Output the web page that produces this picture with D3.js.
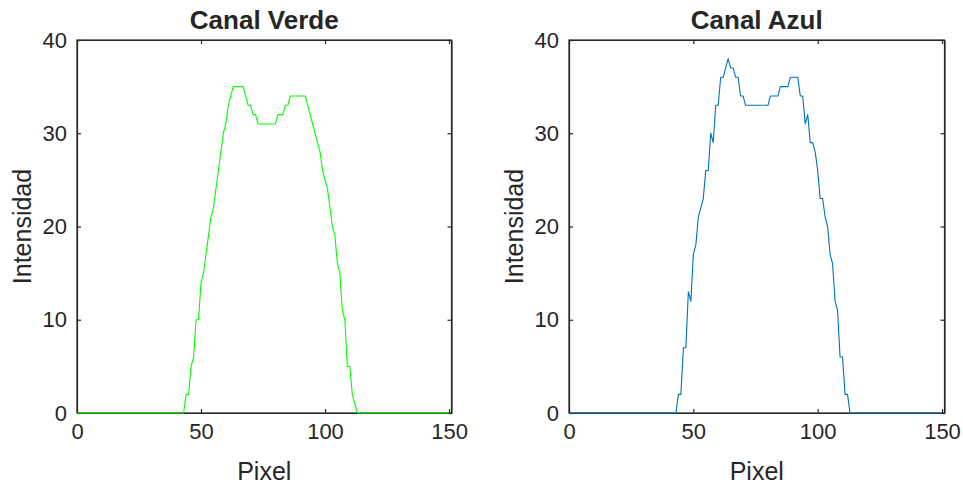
<!DOCTYPE html>
<html>
<head>
<meta charset="utf-8">
<script src="https://cdn.jsdelivr.net/npm/d3@7"></script>
<style>
  html, body { margin: 0; padding: 0; background: #fff; }
  svg { display: block; }
  text { font-family: "Liberation Sans", Arial, Helvetica, sans-serif; fill: #262626; }
</style>
</head>
<body>
<svg id="chart" width="963" height="484"></svg>
<script>
// ---- data ----
const pixels = d3.range(0, 151);
const zerosHead = new Array(44).fill(0);   // pixels 0..43
const zerosTail = new Array(38).fill(0);   // pixels 113..150
const verdeMid = [2,2,5,6,10,10,14,15,17,19,21,22,24,26,28,30,31,33,34,35,35,35,35,35,34,33,33,32,32,31,31,31,31,31,31,31,31,32,32,32,33,33,34,34,34,34,34,34,34,33,32,31,30,29,28,26,25,24,22,20,19,16,15,11,10,5,5,2,1];
const azulMid  = [2,2,7,7,13,12,17,18,21,22,23,26,26,30,29,33,33,36,36,37,38,37,37,36,36,34,34,33,33,33,33,33,33,33,33,33,33,34,34,34,34,35,35,35,35,36,36,36,36,34,34,31,32,29,29,28,26,23,23,21,20,17,16,12,11,6,6,2,2];
const verde = zerosHead.concat(verdeMid, zerosTail);
const azul  = zerosHead.concat(azulMid, zerosTail);
const xTicks = [0, 50, 100, 150];
const yTicks = [0, 10, 20, 30, 40];
const titles = ["Canal Verde", "Canal Azul"];
const colors = ["#00FF00", "#0072BD"];
const xLabel = "Pixel";
const yLabel = "Intensidad";

const panels = [
  { title: titles[0], values: verde, color: colors[0], x0: 77, x1: 451.5 },
  { title: titles[1], values: azul,  color: colors[1], x0: 569, x1: 944.5 }
];
const yTop = 40, yBot = 413;
const svg = d3.select("#chart");
const axisColor = "#262626";

panels.forEach(p => {
  const x = d3.scaleLinear().domain([0, 151]).range([p.x0, p.x1]);
  const y = d3.scaleLinear().domain([0, 40]).range([yBot, yTop]);
  const g = svg.append("g");

  // box
  g.append("rect").attr("x", p.x0).attr("y", yTop)
    .attr("width", p.x1 - p.x0).attr("height", yBot - yTop)
    .attr("fill", "none").attr("stroke", axisColor).attr("stroke-width", 1.2);

  // axes with inward ticks
  const xb = g.append("g").attr("transform", `translate(0,${yBot})`)
    .call(d3.axisBottom(x).tickValues(xTicks).tickSize(-4).tickPadding(10).tickSizeOuter(0));
  const xt = g.append("g").attr("transform", `translate(0,${yTop})`)
    .call(d3.axisTop(x).tickValues(xTicks).tickSize(-4).tickFormat("").tickSizeOuter(0));
  const yl = g.append("g").attr("transform", `translate(${p.x0},0)`)
    .call(d3.axisLeft(y).tickValues(yTicks).tickSize(-4).tickPadding(10).tickSizeOuter(0));
  const yr = g.append("g").attr("transform", `translate(${p.x1},0)`)
    .call(d3.axisRight(y).tickValues(yTicks).tickSize(-4).tickFormat("").tickSizeOuter(0));
  [xb, xt, yl, yr].forEach(a => {
    a.select(".domain").attr("stroke", axisColor).attr("stroke-width", 1.2);
    a.selectAll(".tick line").attr("stroke", axisColor).attr("stroke-width", 1.2);
    a.selectAll(".tick text").attr("font-size", 22).attr("fill", axisColor)
      .style("font-family", '"Liberation Sans", Arial, sans-serif');
  });
  xb.selectAll(".tick text").attr("dy", "0.71em");

  // line
  const line = d3.line().x((d, i) => x(pixels[i])).y(d => y(d));
  g.append("path").datum(p.values).attr("d", line)
    .attr("fill", "none").attr("stroke", p.color).attr("stroke-width", 1.1)
    .attr("stroke-linejoin", "round");

  const cx = (p.x0 + p.x1) / 2;
  g.append("text").attr("x", cx).attr("y", 29).attr("text-anchor", "middle")
    .attr("font-size", 26).attr("font-weight", "bold").attr("fill", "#000").text(p.title);
  g.append("text").attr("x", cx).attr("y", 480).attr("text-anchor", "middle")
    .attr("font-size", 25).text(xLabel);
  g.append("text").attr("transform", `translate(${p.x0 - 46},${(yTop + yBot) / 2}) rotate(-90)`)
    .attr("text-anchor", "middle").attr("font-size", 25).text(yLabel);
});
</script>
</body>
</html>
